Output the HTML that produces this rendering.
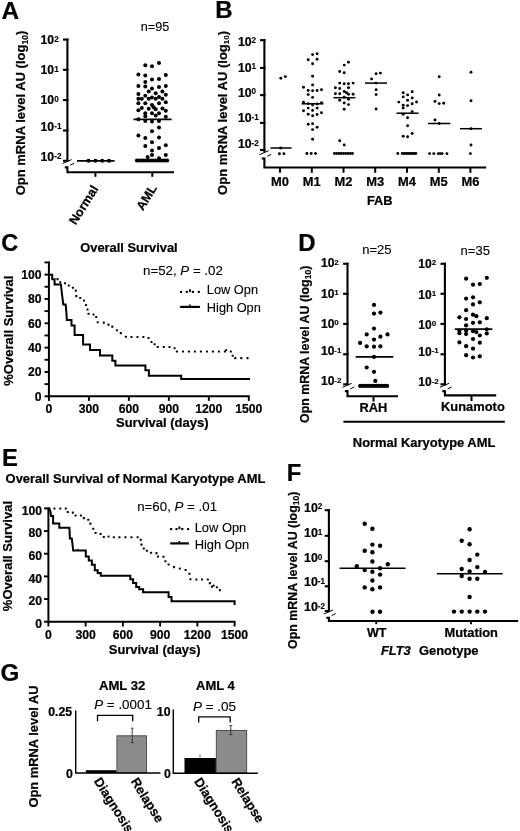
<!DOCTYPE html>
<html lang="en"><head><meta charset="utf-8"><title>Opn mRNA level in AML</title>
<style>html,body{margin:0;padding:0;background:#fff}svg{display:block}text{font-family:"Liberation Sans", Arial, Helvetica, sans-serif;fill:#000}</style></head><body>
<svg width="520" height="831" viewBox="0 0 520 831" font-family='"Liberation Sans", Arial, Helvetica, sans-serif'>
<rect width="520" height="831" fill="#fff"/>
<g id="panelA">
<text x="1.50" y="18.50" font-size="24.4" font-weight="bold" text-anchor="start" stroke="#000" stroke-width="0.22">A</text>
<text x="25.50" y="195.30" font-size="13" font-weight="bold" text-anchor="start" transform="rotate(-90 25.50 195.30)" stroke="#000" stroke-width="0.22">Opn mRNA level AU (log<tspan font-size="8.5" dy="2.4" stroke-width="0.1">10</tspan><tspan dy="-2.4">)</tspan></text>
<line x1="67.40" y1="38.55" x2="67.40" y2="161.30" stroke="#000" stroke-width="2.1" stroke-linecap="butt"/>
<line x1="63.00" y1="39.60" x2="68.45" y2="39.60" stroke="#000" stroke-width="2.1" stroke-linecap="butt"/>
<line x1="63.00" y1="69.80" x2="68.45" y2="69.80" stroke="#000" stroke-width="2.1" stroke-linecap="butt"/>
<line x1="63.00" y1="100.10" x2="68.45" y2="100.10" stroke="#000" stroke-width="2.1" stroke-linecap="butt"/>
<line x1="63.00" y1="130.50" x2="68.45" y2="130.50" stroke="#000" stroke-width="2.1" stroke-linecap="butt"/>
<line x1="63.00" y1="160.80" x2="68.45" y2="160.80" stroke="#000" stroke-width="2.1" stroke-linecap="butt"/>
<line x1="62.40" y1="163.60" x2="71.60" y2="159.60" stroke="#000" stroke-width="1.0" stroke-linecap="butt"/>
<line x1="70.20" y1="165.20" x2="74.20" y2="163.20" stroke="#000" stroke-width="1.0" stroke-linecap="butt"/>
<path d="M64.80 167.40 H67.40 V172.30 H174.00" fill="none" stroke="#000" stroke-width="2.1"/>
<text x="40.60" y="44.00" font-size="12.2" font-weight="bold" text-anchor="start" stroke="#000" stroke-width="0.22">10<tspan font-size="8.2" dy="-2.4" stroke-width="0.12">2</tspan></text>
<text x="40.60" y="74.40" font-size="12.2" font-weight="bold" text-anchor="start" stroke="#000" stroke-width="0.22">10<tspan font-size="8.2" dy="-2.4" stroke-width="0.12">1</tspan></text>
<text x="40.60" y="104.40" font-size="12.2" font-weight="bold" text-anchor="start" stroke="#000" stroke-width="0.22">10<tspan font-size="8.2" dy="-2.4" stroke-width="0.12">0</tspan></text>
<text x="40.60" y="131.00" font-size="12.2" font-weight="bold" text-anchor="start" stroke="#000" stroke-width="0.22">10<tspan font-size="8.2" dy="-2.4" stroke-width="0.12">-1</tspan></text>
<text x="40.60" y="161.40" font-size="12.2" font-weight="bold" text-anchor="start" stroke="#000" stroke-width="0.22">10<tspan font-size="8.2" dy="-2.4" stroke-width="0.12">-2</tspan></text>
<line x1="95.40" y1="172.30" x2="95.40" y2="176.80" stroke="#000" stroke-width="2.0" stroke-linecap="butt"/>
<line x1="152.30" y1="172.30" x2="152.30" y2="176.80" stroke="#000" stroke-width="2.0" stroke-linecap="butt"/>
<text x="98.80" y="188.80" font-size="12.6" font-weight="bold" text-anchor="end" transform="rotate(-58 98.80 188.80)" stroke="#000" stroke-width="0.22">Normal</text>
<text x="157.40" y="188.00" font-size="12.6" font-weight="bold" text-anchor="end" transform="rotate(-58 157.40 188.00)" stroke="#000" stroke-width="0.22">AML</text>
<text x="140.80" y="30.80" font-size="12.6" font-weight="normal" text-anchor="start" stroke="#000" stroke-width="0.12">n=95</text>
<line x1="77.00" y1="160.80" x2="114.60" y2="160.80" stroke="#000" stroke-width="1.7" stroke-linecap="butt"/>
<circle cx="88.5" cy="160.8" r="2.0"/>
<circle cx="95.4" cy="160.8" r="2.0"/>
<circle cx="102.2" cy="160.8" r="2.0"/>
<circle cx="109.0" cy="160.8" r="2.0"/>
<line x1="133.50" y1="119.40" x2="171.60" y2="119.40" stroke="#000" stroke-width="1.7" stroke-linecap="butt"/>
<circle cx="159.0" cy="63.1" r="2.0"/>
<circle cx="145.3" cy="65.2" r="2.0"/>
<circle cx="152.0" cy="66.2" r="2.0"/>
<circle cx="138.4" cy="74.5" r="2.0"/>
<circle cx="165.8" cy="74.9" r="2.0"/>
<circle cx="145.3" cy="75.6" r="2.0"/>
<circle cx="159.0" cy="78.9" r="2.0"/>
<circle cx="152.0" cy="79.6" r="2.0"/>
<circle cx="145.3" cy="81.9" r="2.0"/>
<circle cx="138.4" cy="86.1" r="2.0"/>
<circle cx="165.8" cy="86.1" r="2.0"/>
<circle cx="145.3" cy="86.6" r="2.0"/>
<circle cx="159.0" cy="87.0" r="2.0"/>
<circle cx="152.0" cy="88.6" r="2.0"/>
<circle cx="148.7" cy="91.5" r="2.0"/>
<circle cx="162.4" cy="91.5" r="2.0"/>
<circle cx="155.7" cy="93.3" r="2.0"/>
<circle cx="138.4" cy="94.1" r="2.0"/>
<circle cx="165.8" cy="94.7" r="2.0"/>
<circle cx="145.3" cy="95.8" r="2.0"/>
<circle cx="159.0" cy="97.1" r="2.0"/>
<circle cx="152.0" cy="97.4" r="2.0"/>
<circle cx="138.4" cy="98.7" r="2.0"/>
<circle cx="141.8" cy="98.7" r="2.0"/>
<circle cx="148.7" cy="98.7" r="2.0"/>
<circle cx="155.7" cy="98.7" r="2.0"/>
<circle cx="162.4" cy="98.7" r="2.0"/>
<circle cx="165.8" cy="102.2" r="2.0"/>
<circle cx="138.4" cy="103.2" r="2.0"/>
<circle cx="145.3" cy="103.2" r="2.0"/>
<circle cx="159.0" cy="103.2" r="2.0"/>
<circle cx="152.0" cy="104.9" r="2.0"/>
<circle cx="153.6" cy="107.2" r="2.0"/>
<circle cx="141.8" cy="108.1" r="2.0"/>
<circle cx="148.7" cy="108.8" r="2.0"/>
<circle cx="155.7" cy="109.2" r="2.0"/>
<circle cx="162.4" cy="108.5" r="2.0"/>
<circle cx="138.4" cy="110.2" r="2.0"/>
<circle cx="165.8" cy="110.8" r="2.0"/>
<circle cx="145.3" cy="113.3" r="2.0"/>
<circle cx="152.0" cy="113.3" r="2.0"/>
<circle cx="159.0" cy="113.3" r="2.0"/>
<circle cx="155.7" cy="115.5" r="2.0"/>
<circle cx="145.3" cy="116.2" r="2.0"/>
<circle cx="165.8" cy="116.8" r="2.0"/>
<circle cx="138.4" cy="119.2" r="2.0"/>
<circle cx="145.3" cy="121.0" r="2.0"/>
<circle cx="152.0" cy="121.4" r="2.0"/>
<circle cx="159.0" cy="121.0" r="2.0"/>
<circle cx="159.0" cy="127.5" r="2.0"/>
<circle cx="152.0" cy="131.3" r="2.0"/>
<circle cx="138.4" cy="135.6" r="2.0"/>
<circle cx="145.3" cy="138.0" r="2.0"/>
<circle cx="159.0" cy="137.6" r="2.0"/>
<circle cx="152.0" cy="142.3" r="2.0"/>
<circle cx="145.3" cy="146.1" r="2.0"/>
<circle cx="165.8" cy="145.3" r="2.0"/>
<circle cx="159.0" cy="148.1" r="2.0"/>
<circle cx="152.0" cy="150.6" r="2.0"/>
<circle cx="152.0" cy="155.1" r="2.0"/>
<circle cx="165.8" cy="155.1" r="2.0"/>
<circle cx="147.6" cy="157.1" r="2.0"/>
<circle cx="159.0" cy="158.2" r="2.0"/>
<circle cx="136.9" cy="160.6" r="2.0"/>
<circle cx="139.2" cy="160.6" r="2.0"/>
<circle cx="141.6" cy="160.6" r="2.0"/>
<circle cx="143.9" cy="160.6" r="2.0"/>
<circle cx="146.2" cy="160.6" r="2.0"/>
<circle cx="148.6" cy="160.6" r="2.0"/>
<circle cx="150.9" cy="160.6" r="2.0"/>
<circle cx="153.2" cy="160.6" r="2.0"/>
<circle cx="155.5" cy="160.6" r="2.0"/>
<circle cx="157.9" cy="160.6" r="2.0"/>
<circle cx="160.2" cy="160.6" r="2.0"/>
<circle cx="162.5" cy="160.6" r="2.0"/>
<circle cx="164.9" cy="160.6" r="2.0"/>
<circle cx="167.2" cy="160.6" r="2.0"/>
</g>
<g id="panelB">
<text x="215.20" y="18.40" font-size="24" font-weight="bold" text-anchor="start" stroke="#000" stroke-width="0.22">B</text>
<text x="227.00" y="194.90" font-size="13" font-weight="bold" text-anchor="start" transform="rotate(-90 227.00 194.90)" stroke="#000" stroke-width="0.22">Opn mRNA level AU (log<tspan font-size="8.0" dy="2.4" stroke-width="0.1">10</tspan><tspan dy="-2.4">)</tspan></text>
<line x1="264.40" y1="39.15" x2="264.40" y2="152.40" stroke="#000" stroke-width="2.1" stroke-linecap="butt"/>
<line x1="260.00" y1="40.20" x2="265.45" y2="40.20" stroke="#000" stroke-width="2.1" stroke-linecap="butt"/>
<line x1="260.00" y1="67.90" x2="265.45" y2="67.90" stroke="#000" stroke-width="2.1" stroke-linecap="butt"/>
<line x1="260.00" y1="95.10" x2="265.45" y2="95.10" stroke="#000" stroke-width="2.1" stroke-linecap="butt"/>
<line x1="260.00" y1="122.90" x2="265.45" y2="122.90" stroke="#000" stroke-width="2.1" stroke-linecap="butt"/>
<line x1="260.00" y1="150.00" x2="265.45" y2="150.00" stroke="#000" stroke-width="2.1" stroke-linecap="butt"/>
<line x1="259.40" y1="154.70" x2="268.60" y2="150.70" stroke="#000" stroke-width="1.0" stroke-linecap="butt"/>
<line x1="267.20" y1="156.30" x2="271.20" y2="154.30" stroke="#000" stroke-width="1.0" stroke-linecap="butt"/>
<path d="M261.80 158.50 H264.40 V167.50 H486.20" fill="none" stroke="#000" stroke-width="2.1"/>
<text x="237.90" y="45.70" font-size="12.3" font-weight="bold" text-anchor="start" stroke="#000" stroke-width="0.22">10<tspan font-size="8.2" dy="-2.4" stroke-width="0.12">2</tspan></text>
<text x="237.90" y="71.80" font-size="12.3" font-weight="bold" text-anchor="start" stroke="#000" stroke-width="0.22">10<tspan font-size="8.2" dy="-2.4" stroke-width="0.12">1</tspan></text>
<text x="237.90" y="96.70" font-size="12.3" font-weight="bold" text-anchor="start" stroke="#000" stroke-width="0.22">10<tspan font-size="8.2" dy="-2.4" stroke-width="0.12">0</tspan></text>
<text x="237.90" y="121.90" font-size="12.3" font-weight="bold" text-anchor="start" stroke="#000" stroke-width="0.22">10<tspan font-size="8.2" dy="-2.4" stroke-width="0.12">-1</tspan></text>
<text x="237.90" y="148.00" font-size="12.3" font-weight="bold" text-anchor="start" stroke="#000" stroke-width="0.22">10<tspan font-size="8.2" dy="-2.4" stroke-width="0.12">-2</tspan></text>
<line x1="280.00" y1="167.50" x2="280.00" y2="172.80" stroke="#000" stroke-width="2.0" stroke-linecap="butt"/>
<text x="280.00" y="185.70" font-size="12.9" font-weight="bold" text-anchor="middle" stroke="#000" stroke-width="0.22">M0</text>
<line x1="311.80" y1="167.50" x2="311.80" y2="172.80" stroke="#000" stroke-width="2.0" stroke-linecap="butt"/>
<text x="311.80" y="185.70" font-size="12.9" font-weight="bold" text-anchor="middle" stroke="#000" stroke-width="0.22">M1</text>
<line x1="343.50" y1="167.50" x2="343.50" y2="172.80" stroke="#000" stroke-width="2.0" stroke-linecap="butt"/>
<text x="343.50" y="185.70" font-size="12.9" font-weight="bold" text-anchor="middle" stroke="#000" stroke-width="0.22">M2</text>
<line x1="375.20" y1="167.50" x2="375.20" y2="172.80" stroke="#000" stroke-width="2.0" stroke-linecap="butt"/>
<text x="375.20" y="185.70" font-size="12.9" font-weight="bold" text-anchor="middle" stroke="#000" stroke-width="0.22">M3</text>
<line x1="407.00" y1="167.50" x2="407.00" y2="172.80" stroke="#000" stroke-width="2.0" stroke-linecap="butt"/>
<text x="407.00" y="185.70" font-size="12.9" font-weight="bold" text-anchor="middle" stroke="#000" stroke-width="0.22">M4</text>
<line x1="438.80" y1="167.50" x2="438.80" y2="172.80" stroke="#000" stroke-width="2.0" stroke-linecap="butt"/>
<text x="438.80" y="185.70" font-size="12.9" font-weight="bold" text-anchor="middle" stroke="#000" stroke-width="0.22">M5</text>
<line x1="470.40" y1="167.50" x2="470.40" y2="172.80" stroke="#000" stroke-width="2.0" stroke-linecap="butt"/>
<text x="470.40" y="185.70" font-size="12.9" font-weight="bold" text-anchor="middle" stroke="#000" stroke-width="0.22">M6</text>
<text x="379.70" y="205.00" font-size="12.8" font-weight="bold" text-anchor="middle" stroke="#000" stroke-width="0.22">FAB</text>
<line x1="270.40" y1="148.00" x2="291.60" y2="148.00" stroke="#000" stroke-width="1.5" stroke-linecap="butt"/>
<line x1="301.50" y1="103.80" x2="323.50" y2="103.80" stroke="#000" stroke-width="1.5" stroke-linecap="butt"/>
<line x1="333.40" y1="97.70" x2="355.40" y2="97.70" stroke="#000" stroke-width="1.5" stroke-linecap="butt"/>
<line x1="365.00" y1="83.10" x2="387.00" y2="83.10" stroke="#000" stroke-width="1.5" stroke-linecap="butt"/>
<line x1="396.50" y1="113.20" x2="418.50" y2="113.20" stroke="#000" stroke-width="1.5" stroke-linecap="butt"/>
<line x1="428.00" y1="123.50" x2="450.40" y2="123.50" stroke="#000" stroke-width="1.5" stroke-linecap="butt"/>
<line x1="460.00" y1="128.70" x2="482.00" y2="128.70" stroke="#000" stroke-width="1.5" stroke-linecap="butt"/>
<circle cx="280.8" cy="78.2" r="1.45"/>
<circle cx="285.3" cy="76.6" r="1.45"/>
<circle cx="280.6" cy="148.0" r="1.45"/>
<circle cx="279.4" cy="153.8" r="1.45"/>
<circle cx="283.9" cy="153.8" r="1.45"/>
<circle cx="312.6" cy="54.6" r="1.45"/>
<circle cx="317.1" cy="53.8" r="1.45"/>
<circle cx="308.2" cy="59.7" r="1.45"/>
<circle cx="317.1" cy="59.2" r="1.45"/>
<circle cx="312.6" cy="63.8" r="1.45"/>
<circle cx="312.6" cy="76.2" r="1.45"/>
<circle cx="312.6" cy="84.9" r="1.45"/>
<circle cx="303.5" cy="87.2" r="1.45"/>
<circle cx="308.2" cy="90.5" r="1.45"/>
<circle cx="312.6" cy="90.8" r="1.45"/>
<circle cx="317.1" cy="90.5" r="1.45"/>
<circle cx="321.5" cy="89.7" r="1.45"/>
<circle cx="308.2" cy="94.6" r="1.45"/>
<circle cx="312.6" cy="97.4" r="1.45"/>
<circle cx="303.5" cy="102.2" r="1.45"/>
<circle cx="308.2" cy="103.6" r="1.45"/>
<circle cx="321.5" cy="102.7" r="1.45"/>
<circle cx="312.6" cy="105.0" r="1.45"/>
<circle cx="317.1" cy="104.0" r="1.45"/>
<circle cx="308.2" cy="108.1" r="1.45"/>
<circle cx="317.1" cy="108.1" r="1.45"/>
<circle cx="303.5" cy="110.7" r="1.45"/>
<circle cx="312.6" cy="110.4" r="1.45"/>
<circle cx="321.5" cy="112.7" r="1.45"/>
<circle cx="308.2" cy="114.2" r="1.45"/>
<circle cx="317.1" cy="114.5" r="1.45"/>
<circle cx="312.6" cy="115.8" r="1.45"/>
<circle cx="308.2" cy="124.2" r="1.45"/>
<circle cx="312.6" cy="123.8" r="1.45"/>
<circle cx="317.1" cy="127.3" r="1.45"/>
<circle cx="312.6" cy="129.6" r="1.45"/>
<circle cx="312.6" cy="139.2" r="1.45"/>
<circle cx="306.9" cy="153.5" r="1.45"/>
<circle cx="311.2" cy="153.5" r="1.45"/>
<circle cx="315.5" cy="153.5" r="1.45"/>
<circle cx="348.5" cy="62.3" r="1.45"/>
<circle cx="344.2" cy="65.1" r="1.45"/>
<circle cx="339.7" cy="71.5" r="1.45"/>
<circle cx="344.2" cy="72.8" r="1.45"/>
<circle cx="339.7" cy="83.1" r="1.45"/>
<circle cx="344.2" cy="83.8" r="1.45"/>
<circle cx="348.5" cy="83.8" r="1.45"/>
<circle cx="353.1" cy="83.1" r="1.45"/>
<circle cx="335.4" cy="87.7" r="1.45"/>
<circle cx="339.7" cy="88.5" r="1.45"/>
<circle cx="348.5" cy="87.7" r="1.45"/>
<circle cx="344.2" cy="91.5" r="1.45"/>
<circle cx="346.5" cy="92.8" r="1.45"/>
<circle cx="335.4" cy="93.8" r="1.45"/>
<circle cx="339.7" cy="93.8" r="1.45"/>
<circle cx="348.5" cy="94.3" r="1.45"/>
<circle cx="353.1" cy="94.3" r="1.45"/>
<circle cx="344.2" cy="97.2" r="1.45"/>
<circle cx="339.7" cy="100.2" r="1.45"/>
<circle cx="348.5" cy="99.2" r="1.45"/>
<circle cx="344.2" cy="103.0" r="1.45"/>
<circle cx="348.5" cy="104.6" r="1.45"/>
<circle cx="344.2" cy="109.2" r="1.45"/>
<circle cx="339.7" cy="140.8" r="1.45"/>
<circle cx="344.2" cy="145.0" r="1.45"/>
<circle cx="334.4" cy="153.5" r="1.45"/>
<circle cx="336.6" cy="153.5" r="1.45"/>
<circle cx="338.9" cy="153.5" r="1.45"/>
<circle cx="341.1" cy="153.5" r="1.45"/>
<circle cx="343.4" cy="153.5" r="1.45"/>
<circle cx="345.6" cy="153.5" r="1.45"/>
<circle cx="347.9" cy="153.5" r="1.45"/>
<circle cx="350.1" cy="153.5" r="1.45"/>
<circle cx="352.4" cy="153.5" r="1.45"/>
<circle cx="376.1" cy="73.8" r="1.45"/>
<circle cx="380.4" cy="73.1" r="1.45"/>
<circle cx="371.6" cy="78.9" r="1.45"/>
<circle cx="376.1" cy="83.1" r="1.45"/>
<circle cx="376.1" cy="89.7" r="1.45"/>
<circle cx="376.1" cy="94.6" r="1.45"/>
<circle cx="376.1" cy="109.0" r="1.45"/>
<circle cx="403.2" cy="92.8" r="1.45"/>
<circle cx="412.2" cy="91.8" r="1.45"/>
<circle cx="407.6" cy="94.9" r="1.45"/>
<circle cx="403.2" cy="96.9" r="1.45"/>
<circle cx="412.2" cy="98.0" r="1.45"/>
<circle cx="407.6" cy="100.2" r="1.45"/>
<circle cx="398.8" cy="102.1" r="1.45"/>
<circle cx="416.5" cy="102.0" r="1.45"/>
<circle cx="412.2" cy="103.8" r="1.45"/>
<circle cx="403.2" cy="105.2" r="1.45"/>
<circle cx="407.6" cy="105.6" r="1.45"/>
<circle cx="403.2" cy="108.0" r="1.45"/>
<circle cx="412.2" cy="111.6" r="1.45"/>
<circle cx="403.2" cy="114.2" r="1.45"/>
<circle cx="407.6" cy="117.8" r="1.45"/>
<circle cx="407.6" cy="125.8" r="1.45"/>
<circle cx="412.2" cy="133.5" r="1.45"/>
<circle cx="403.2" cy="136.2" r="1.45"/>
<circle cx="407.6" cy="136.8" r="1.45"/>
<circle cx="397.8" cy="153.5" r="1.45"/>
<circle cx="402.3" cy="153.5" r="1.45"/>
<circle cx="404.2" cy="153.5" r="1.45"/>
<circle cx="406.2" cy="153.5" r="1.45"/>
<circle cx="408.1" cy="153.5" r="1.45"/>
<circle cx="410.0" cy="153.5" r="1.45"/>
<circle cx="411.9" cy="153.5" r="1.45"/>
<circle cx="413.9" cy="153.5" r="1.45"/>
<circle cx="415.8" cy="153.5" r="1.45"/>
<circle cx="439.2" cy="76.7" r="1.45"/>
<circle cx="439.2" cy="95.0" r="1.45"/>
<circle cx="435.0" cy="101.4" r="1.45"/>
<circle cx="439.2" cy="103.6" r="1.45"/>
<circle cx="443.7" cy="103.2" r="1.45"/>
<circle cx="435.0" cy="120.0" r="1.45"/>
<circle cx="439.2" cy="123.5" r="1.45"/>
<circle cx="429.6" cy="153.6" r="1.45"/>
<circle cx="433.8" cy="153.6" r="1.45"/>
<circle cx="438.3" cy="153.6" r="1.45"/>
<circle cx="440.2" cy="153.6" r="1.45"/>
<circle cx="442.1" cy="153.6" r="1.45"/>
<circle cx="446.9" cy="153.6" r="1.45"/>
<circle cx="471.0" cy="72.3" r="1.45"/>
<circle cx="471.0" cy="100.8" r="1.45"/>
<circle cx="471.0" cy="128.7" r="1.45"/>
<circle cx="471.0" cy="145.0" r="1.45"/>
<circle cx="470.4" cy="153.6" r="1.45"/>
</g>
<g id="panelC">
<text x="1.20" y="251.00" font-size="23.6" font-weight="bold" text-anchor="start" stroke="#000" stroke-width="0.22">C</text>
<text x="80.20" y="252.00" font-size="12.9" font-weight="bold" text-anchor="start" stroke="#000" stroke-width="0.22">Overall Survival</text>
<text x="12.60" y="385.80" font-size="13.05" font-weight="bold" text-anchor="start" transform="rotate(-90 12.60 385.80)" stroke="#000" stroke-width="0.22">%Overall Survival</text>
<line x1="48.90" y1="261.40" x2="48.90" y2="397.30" stroke="#000" stroke-width="2.0" stroke-linecap="butt"/>
<line x1="47.90" y1="396.30" x2="249.80" y2="396.30" stroke="#000" stroke-width="2.0" stroke-linecap="butt"/>
<line x1="44.50" y1="396.30" x2="48.90" y2="396.30" stroke="#000" stroke-width="1.9" stroke-linecap="butt"/>
<line x1="44.50" y1="384.13" x2="48.90" y2="384.13" stroke="#000" stroke-width="1.9" stroke-linecap="butt"/>
<line x1="44.50" y1="371.96" x2="48.90" y2="371.96" stroke="#000" stroke-width="1.9" stroke-linecap="butt"/>
<line x1="44.50" y1="359.79" x2="48.90" y2="359.79" stroke="#000" stroke-width="1.9" stroke-linecap="butt"/>
<line x1="44.50" y1="347.62" x2="48.90" y2="347.62" stroke="#000" stroke-width="1.9" stroke-linecap="butt"/>
<line x1="44.50" y1="335.45" x2="48.90" y2="335.45" stroke="#000" stroke-width="1.9" stroke-linecap="butt"/>
<line x1="44.50" y1="323.28" x2="48.90" y2="323.28" stroke="#000" stroke-width="1.9" stroke-linecap="butt"/>
<line x1="44.50" y1="311.11" x2="48.90" y2="311.11" stroke="#000" stroke-width="1.9" stroke-linecap="butt"/>
<line x1="44.50" y1="298.94" x2="48.90" y2="298.94" stroke="#000" stroke-width="1.9" stroke-linecap="butt"/>
<line x1="44.50" y1="286.77" x2="48.90" y2="286.77" stroke="#000" stroke-width="1.9" stroke-linecap="butt"/>
<line x1="44.50" y1="274.60" x2="48.90" y2="274.60" stroke="#000" stroke-width="1.9" stroke-linecap="butt"/>
<line x1="44.50" y1="262.43" x2="48.90" y2="262.43" stroke="#000" stroke-width="1.9" stroke-linecap="butt"/>
<text x="41.60" y="400.60" font-size="12.2" font-weight="bold" text-anchor="end" stroke="#000" stroke-width="0.22">0</text>
<text x="41.60" y="376.26" font-size="12.2" font-weight="bold" text-anchor="end" stroke="#000" stroke-width="0.22">20</text>
<text x="41.60" y="351.92" font-size="12.2" font-weight="bold" text-anchor="end" stroke="#000" stroke-width="0.22">40</text>
<text x="41.60" y="327.58" font-size="12.2" font-weight="bold" text-anchor="end" stroke="#000" stroke-width="0.22">60</text>
<text x="41.60" y="303.24" font-size="12.2" font-weight="bold" text-anchor="end" stroke="#000" stroke-width="0.22">80</text>
<text x="41.60" y="278.90" font-size="12.2" font-weight="bold" text-anchor="end" stroke="#000" stroke-width="0.22">100</text>
<line x1="48.90" y1="396.30" x2="48.90" y2="400.90" stroke="#000" stroke-width="1.9" stroke-linecap="butt"/>
<text x="48.90" y="413.40" font-size="12.2" font-weight="bold" text-anchor="middle" stroke="#000" stroke-width="0.22">0</text>
<line x1="88.88" y1="396.30" x2="88.88" y2="400.90" stroke="#000" stroke-width="1.9" stroke-linecap="butt"/>
<text x="88.88" y="413.40" font-size="12.2" font-weight="bold" text-anchor="middle" stroke="#000" stroke-width="0.22">300</text>
<line x1="128.86" y1="396.30" x2="128.86" y2="400.90" stroke="#000" stroke-width="1.9" stroke-linecap="butt"/>
<text x="128.86" y="413.40" font-size="12.2" font-weight="bold" text-anchor="middle" stroke="#000" stroke-width="0.22">600</text>
<line x1="168.84" y1="396.30" x2="168.84" y2="400.90" stroke="#000" stroke-width="1.9" stroke-linecap="butt"/>
<text x="168.84" y="413.40" font-size="12.2" font-weight="bold" text-anchor="middle" stroke="#000" stroke-width="0.22">900</text>
<line x1="208.82" y1="396.30" x2="208.82" y2="400.90" stroke="#000" stroke-width="1.9" stroke-linecap="butt"/>
<text x="208.82" y="413.40" font-size="12.2" font-weight="bold" text-anchor="middle" stroke="#000" stroke-width="0.22">1200</text>
<line x1="248.80" y1="396.30" x2="248.80" y2="400.90" stroke="#000" stroke-width="1.9" stroke-linecap="butt"/>
<text x="248.80" y="413.40" font-size="12.2" font-weight="bold" text-anchor="middle" stroke="#000" stroke-width="0.22">1500</text>
<text x="116.00" y="427.40" font-size="13.0" font-weight="bold" text-anchor="start" stroke="#000" stroke-width="0.22">Survival (days)</text>
<text x="143.00" y="274.80" font-size="13.3" font-weight="normal" text-anchor="start" stroke="#000" stroke-width="0.12">n=52, <tspan font-style="italic">P</tspan> = .02</text>
<text x="206.80" y="293.80" font-size="12.8" font-weight="normal" text-anchor="start" stroke="#000" stroke-width="0.12">Low Opn</text>
<text x="206.80" y="311.90" font-size="12.8" font-weight="normal" text-anchor="start" stroke="#000" stroke-width="0.12">High Opn</text>
<rect x="180.05" y="290.85" width="2.1" height="2.1"/>
<rect x="185.75" y="290.85" width="2.1" height="2.1"/>
<rect x="191.85" y="290.85" width="2.1" height="2.1"/>
<rect x="197.75" y="290.85" width="2.1" height="2.1"/>
<rect x="188.95" y="289.3" width="1.9" height="2.7"/>
<line x1="180.10" y1="306.90" x2="199.90" y2="306.90" stroke="#000" stroke-width="2.2" stroke-linecap="butt"/>
<line x1="189.90" y1="304.50" x2="189.90" y2="306.90" stroke="#000" stroke-width="1.6" stroke-linecap="butt"/>
<path d="M49.2 274.7 L52.2 274.7 L52.2 279.3 L54.6 279.3 L54.6 284.4 L60.9 284.4 L61.5 290.0 L62.1 294.9 L62.7 299.8 L63.3 304.5 L65.7 304.5 L66.3 312.0 L66.9 320.0 L71.5 320.0 L71.5 325.4 L74.6 325.4 L74.6 334.9 L83.1 334.9 L83.1 344.6 L90.0 344.6 L90.0 350.0 L100.0 350.0 L100.0 355.4 L112.3 355.4 L112.3 360.8 L115.4 360.8 L115.4 365.4 L145.4 365.4 L145.4 370.3 L148.9 370.3 L148.9 375.8 L181.2 375.8 L181.2 379.1 L250.0 379.1" fill="none" stroke="#000" stroke-width="2.0" stroke-linejoin="miter"/>
<rect x="56.48" y="278.08" width="2.05" height="2.05" rx="0.5"/>
<rect x="59.18" y="281.18" width="2.05" height="2.05" rx="0.5"/>
<rect x="63.98" y="282.18" width="2.05" height="2.05" rx="0.5"/>
<rect x="67.78" y="284.48" width="2.05" height="2.05" rx="0.5"/>
<rect x="71.88" y="286.68" width="2.05" height="2.05" rx="0.5"/>
<rect x="74.78" y="289.58" width="2.05" height="2.05" rx="0.5"/>
<rect x="75.28" y="295.08" width="2.05" height="2.05" rx="0.5"/>
<rect x="79.18" y="296.98" width="2.05" height="2.05" rx="0.5"/>
<rect x="82.88" y="299.48" width="2.05" height="2.05" rx="0.5"/>
<rect x="84.98" y="303.98" width="2.05" height="2.05" rx="0.5"/>
<rect x="86.48" y="308.48" width="2.05" height="2.05" rx="0.5"/>
<rect x="87.58" y="312.78" width="2.05" height="2.05" rx="0.5"/>
<rect x="92.48" y="313.48" width="2.05" height="2.05" rx="0.5"/>
<rect x="95.18" y="315.88" width="2.05" height="2.05" rx="0.5"/>
<rect x="96.68" y="321.28" width="2.05" height="2.05" rx="0.5"/>
<rect x="102.78" y="321.58" width="2.05" height="2.05" rx="0.5"/>
<rect x="107.48" y="323.58" width="2.05" height="2.05" rx="0.5"/>
<rect x="111.28" y="325.58" width="2.05" height="2.05" rx="0.5"/>
<rect x="115.88" y="329.28" width="2.05" height="2.05" rx="0.5"/>
<rect x="119.78" y="332.08" width="2.05" height="2.05" rx="0.5"/>
<rect x="124.88" y="335.68" width="2.05" height="2.05" rx="0.5"/>
<rect x="130.48" y="335.88" width="2.05" height="2.05" rx="0.5"/>
<rect x="136.48" y="335.88" width="2.05" height="2.05" rx="0.5"/>
<rect x="142.38" y="335.88" width="2.05" height="2.05" rx="0.5"/>
<rect x="147.48" y="336.98" width="2.05" height="2.05" rx="0.5"/>
<rect x="150.48" y="340.98" width="2.05" height="2.05" rx="0.5"/>
<rect x="153.58" y="343.18" width="2.05" height="2.05" rx="0.5"/>
<rect x="156.68" y="345.88" width="2.05" height="2.05" rx="0.5"/>
<rect x="162.78" y="345.88" width="2.05" height="2.05" rx="0.5"/>
<rect x="168.48" y="345.88" width="2.05" height="2.05" rx="0.5"/>
<rect x="173.58" y="347.18" width="2.05" height="2.05" rx="0.5"/>
<rect x="175.88" y="350.48" width="2.05" height="2.05" rx="0.5"/>
<rect x="181.98" y="350.48" width="2.05" height="2.05" rx="0.5"/>
<rect x="187.88" y="350.48" width="2.05" height="2.05" rx="0.5"/>
<rect x="193.88" y="350.48" width="2.05" height="2.05" rx="0.5"/>
<rect x="199.88" y="350.48" width="2.05" height="2.05" rx="0.5"/>
<rect x="205.88" y="350.48" width="2.05" height="2.05" rx="0.5"/>
<rect x="211.88" y="350.48" width="2.05" height="2.05" rx="0.5"/>
<rect x="217.88" y="350.48" width="2.05" height="2.05" rx="0.5"/>
<rect x="223.88" y="350.48" width="2.05" height="2.05" rx="0.5"/>
<rect x="229.78" y="350.48" width="2.05" height="2.05" rx="0.5"/>
<rect x="231.68" y="354.68" width="2.05" height="2.05" rx="0.5"/>
<rect x="234.28" y="357.08" width="2.05" height="2.05" rx="0.5"/>
<rect x="240.28" y="357.08" width="2.05" height="2.05" rx="0.5"/>
<rect x="246.48" y="357.08" width="2.05" height="2.05" rx="0.5"/>
<circle cx="226.2" cy="350.1" r="1.1"/>
</g>
<g id="panelD">
<text x="298.20" y="250.90" font-size="24" font-weight="bold" text-anchor="start" stroke="#000" stroke-width="0.22">D</text>
<text x="308.60" y="423.00" font-size="12.4" font-weight="bold" text-anchor="start" transform="rotate(-90 308.60 423.00)" stroke="#000" stroke-width="0.22">Opn mRNA level AU (log<tspan font-size="8.6" dy="2.4" stroke-width="0.1">10</tspan><tspan dy="-2.4">)</tspan></text>
<line x1="347.50" y1="262.75" x2="347.50" y2="385.00" stroke="#000" stroke-width="2.1" stroke-linecap="butt"/>
<line x1="343.10" y1="263.80" x2="348.55" y2="263.80" stroke="#000" stroke-width="2.1" stroke-linecap="butt"/>
<line x1="343.10" y1="293.80" x2="348.55" y2="293.80" stroke="#000" stroke-width="2.1" stroke-linecap="butt"/>
<line x1="343.10" y1="323.90" x2="348.55" y2="323.90" stroke="#000" stroke-width="2.1" stroke-linecap="butt"/>
<line x1="343.10" y1="354.30" x2="348.55" y2="354.30" stroke="#000" stroke-width="2.1" stroke-linecap="butt"/>
<line x1="343.10" y1="384.30" x2="348.55" y2="384.30" stroke="#000" stroke-width="2.1" stroke-linecap="butt"/>
<line x1="342.50" y1="387.30" x2="351.70" y2="383.30" stroke="#000" stroke-width="1.0" stroke-linecap="butt"/>
<line x1="350.30" y1="388.90" x2="354.30" y2="386.90" stroke="#000" stroke-width="1.0" stroke-linecap="butt"/>
<path d="M344.90 391.10 H347.50 V396.20 H398.00" fill="none" stroke="#000" stroke-width="2.1"/>
<text x="321.00" y="267.30" font-size="12.0" font-weight="bold" text-anchor="start" stroke="#000" stroke-width="0.22">10<tspan font-size="8.0" dy="-2.4" stroke-width="0.12">2</tspan></text>
<text x="321.00" y="297.80" font-size="12.0" font-weight="bold" text-anchor="start" stroke="#000" stroke-width="0.22">10<tspan font-size="8.0" dy="-2.4" stroke-width="0.12">1</tspan></text>
<text x="321.00" y="327.60" font-size="12.0" font-weight="bold" text-anchor="start" stroke="#000" stroke-width="0.22">10<tspan font-size="8.0" dy="-2.4" stroke-width="0.12">0</tspan></text>
<text x="321.00" y="355.00" font-size="12.0" font-weight="bold" text-anchor="start" stroke="#000" stroke-width="0.22">10<tspan font-size="8.0" dy="-2.4" stroke-width="0.12">-1</tspan></text>
<text x="321.00" y="385.00" font-size="12.0" font-weight="bold" text-anchor="start" stroke="#000" stroke-width="0.22">10<tspan font-size="8.0" dy="-2.4" stroke-width="0.12">-2</tspan></text>
<line x1="444.90" y1="262.75" x2="444.90" y2="385.00" stroke="#000" stroke-width="2.1" stroke-linecap="butt"/>
<line x1="440.50" y1="263.80" x2="445.95" y2="263.80" stroke="#000" stroke-width="2.1" stroke-linecap="butt"/>
<line x1="440.50" y1="293.80" x2="445.95" y2="293.80" stroke="#000" stroke-width="2.1" stroke-linecap="butt"/>
<line x1="440.50" y1="323.90" x2="445.95" y2="323.90" stroke="#000" stroke-width="2.1" stroke-linecap="butt"/>
<line x1="440.50" y1="354.30" x2="445.95" y2="354.30" stroke="#000" stroke-width="2.1" stroke-linecap="butt"/>
<line x1="440.50" y1="384.30" x2="445.95" y2="384.30" stroke="#000" stroke-width="2.1" stroke-linecap="butt"/>
<line x1="439.90" y1="387.30" x2="449.10" y2="383.30" stroke="#000" stroke-width="1.0" stroke-linecap="butt"/>
<line x1="447.70" y1="388.90" x2="451.70" y2="386.90" stroke="#000" stroke-width="1.0" stroke-linecap="butt"/>
<path d="M442.30 391.10 H444.90 V395.40 H496.20" fill="none" stroke="#000" stroke-width="2.1"/>
<text x="418.30" y="267.50" font-size="12.0" font-weight="bold" text-anchor="start" stroke="#000" stroke-width="0.22">10<tspan font-size="8.0" dy="-2.4" stroke-width="0.12">2</tspan></text>
<text x="418.30" y="298.50" font-size="12.0" font-weight="bold" text-anchor="start" stroke="#000" stroke-width="0.22">10<tspan font-size="8.0" dy="-2.4" stroke-width="0.12">1</tspan></text>
<text x="418.30" y="328.50" font-size="12.0" font-weight="bold" text-anchor="start" stroke="#000" stroke-width="0.22">10<tspan font-size="8.0" dy="-2.4" stroke-width="0.12">0</tspan></text>
<text x="418.30" y="355.50" font-size="12.0" font-weight="bold" text-anchor="start" stroke="#000" stroke-width="0.22">10<tspan font-size="8.0" dy="-2.4" stroke-width="0.12">-1</tspan></text>
<text x="418.30" y="386.00" font-size="12.0" font-weight="bold" text-anchor="start" stroke="#000" stroke-width="0.22">10<tspan font-size="8.0" dy="-2.4" stroke-width="0.12">-2</tspan></text>
<line x1="373.50" y1="396.20" x2="373.50" y2="401.60" stroke="#000" stroke-width="2.0" stroke-linecap="butt"/>
<line x1="471.50" y1="395.40" x2="471.50" y2="401.00" stroke="#000" stroke-width="2.0" stroke-linecap="butt"/>
<text x="373.30" y="412.30" font-size="12.85" font-weight="bold" text-anchor="middle" stroke="#000" stroke-width="0.22">RAH</text>
<text x="472.90" y="411.30" font-size="12.9" font-weight="bold" text-anchor="middle" stroke="#000" stroke-width="0.22">Kunamoto</text>
<text x="362.20" y="254.40" font-size="13.0" font-weight="normal" text-anchor="start" stroke="#000" stroke-width="0.12">n=25</text>
<text x="460.60" y="255.10" font-size="13.0" font-weight="normal" text-anchor="start" stroke="#000" stroke-width="0.12">n=35</text>
<line x1="343.40" y1="421.80" x2="504.80" y2="421.80" stroke="#000" stroke-width="2.1" stroke-linecap="butt"/>
<text x="352.80" y="446.90" font-size="12.95" font-weight="bold" text-anchor="start" stroke="#000" stroke-width="0.22">Normal Karyotype AML</text>
<line x1="355.70" y1="356.90" x2="393.30" y2="356.90" stroke="#000" stroke-width="1.7" stroke-linecap="butt"/>
<circle cx="374.0" cy="304.9" r="2.1"/>
<circle cx="374.0" cy="313.6" r="2.1"/>
<circle cx="380.4" cy="312.6" r="2.1"/>
<circle cx="374.0" cy="328.6" r="2.1"/>
<circle cx="366.7" cy="334.4" r="2.1"/>
<circle cx="380.4" cy="336.7" r="2.1"/>
<circle cx="387.5" cy="334.4" r="2.1"/>
<circle cx="374.0" cy="339.6" r="2.1"/>
<circle cx="360.1" cy="342.9" r="2.1"/>
<circle cx="366.7" cy="346.3" r="2.1"/>
<circle cx="374.0" cy="346.7" r="2.1"/>
<circle cx="380.4" cy="346.3" r="2.1"/>
<circle cx="374.0" cy="356.9" r="2.1"/>
<circle cx="366.7" cy="367.5" r="2.1"/>
<circle cx="374.0" cy="371.8" r="2.1"/>
<circle cx="375.3" cy="380.9" r="2.1"/>
<circle cx="360.2" cy="385.9" r="2.1"/>
<circle cx="362.9" cy="385.9" r="2.1"/>
<circle cx="365.6" cy="385.9" r="2.1"/>
<circle cx="368.3" cy="385.9" r="2.1"/>
<circle cx="371.0" cy="385.9" r="2.1"/>
<circle cx="373.7" cy="385.9" r="2.1"/>
<circle cx="376.4" cy="385.9" r="2.1"/>
<circle cx="379.1" cy="385.9" r="2.1"/>
<circle cx="381.8" cy="385.9" r="2.1"/>
<circle cx="384.5" cy="385.9" r="2.1"/>
<circle cx="387.1" cy="385.9" r="2.1"/>
<line x1="454.80" y1="329.10" x2="492.40" y2="329.10" stroke="#000" stroke-width="1.7" stroke-linecap="butt"/>
<circle cx="466.1" cy="278.7" r="2.1"/>
<circle cx="486.8" cy="277.8" r="2.1"/>
<circle cx="473.0" cy="284.7" r="2.1"/>
<circle cx="479.8" cy="284.1" r="2.1"/>
<circle cx="466.1" cy="298.6" r="2.1"/>
<circle cx="473.0" cy="297.3" r="2.1"/>
<circle cx="479.8" cy="302.3" r="2.1"/>
<circle cx="473.0" cy="304.4" r="2.1"/>
<circle cx="466.1" cy="310.2" r="2.1"/>
<circle cx="473.0" cy="314.7" r="2.1"/>
<circle cx="476.4" cy="316.2" r="2.1"/>
<circle cx="459.4" cy="317.3" r="2.1"/>
<circle cx="486.8" cy="318.2" r="2.1"/>
<circle cx="466.1" cy="319.0" r="2.1"/>
<circle cx="473.0" cy="322.8" r="2.1"/>
<circle cx="479.8" cy="322.3" r="2.1"/>
<circle cx="466.1" cy="325.4" r="2.1"/>
<circle cx="459.4" cy="330.6" r="2.1"/>
<circle cx="459.4" cy="333.2" r="2.1"/>
<circle cx="466.1" cy="330.6" r="2.1"/>
<circle cx="466.1" cy="334.0" r="2.1"/>
<circle cx="473.0" cy="331.2" r="2.1"/>
<circle cx="476.4" cy="332.1" r="2.1"/>
<circle cx="479.8" cy="335.5" r="2.1"/>
<circle cx="486.8" cy="329.4" r="2.1"/>
<circle cx="486.8" cy="333.5" r="2.1"/>
<circle cx="473.0" cy="339.0" r="2.1"/>
<circle cx="459.4" cy="342.3" r="2.1"/>
<circle cx="479.8" cy="342.7" r="2.1"/>
<circle cx="466.1" cy="346.2" r="2.1"/>
<circle cx="473.0" cy="348.7" r="2.1"/>
<circle cx="466.1" cy="355.2" r="2.1"/>
<circle cx="473.0" cy="357.5" r="2.1"/>
<circle cx="479.8" cy="356.3" r="2.1"/>
</g>
<g id="panelE">
<text x="2.00" y="465.90" font-size="23.8" font-weight="bold" text-anchor="start" stroke="#000" stroke-width="0.22">E</text>
<text x="5.60" y="483.00" font-size="12.95" font-weight="bold" text-anchor="start" stroke="#000" stroke-width="0.22">Overall Survival of Normal Karyotype AML</text>
<text x="12.00" y="611.20" font-size="13.05" font-weight="bold" text-anchor="start" transform="rotate(-90 12.00 611.20)" stroke="#000" stroke-width="0.22">%Overall Survival</text>
<line x1="48.40" y1="507.40" x2="48.40" y2="622.70" stroke="#000" stroke-width="2.0" stroke-linecap="butt"/>
<line x1="47.40" y1="621.70" x2="235.60" y2="621.70" stroke="#000" stroke-width="2.0" stroke-linecap="butt"/>
<line x1="44.00" y1="621.70" x2="48.40" y2="621.70" stroke="#000" stroke-width="1.9" stroke-linecap="butt"/>
<text x="42.00" y="628.10" font-size="12.2" font-weight="bold" text-anchor="end" stroke="#000" stroke-width="0.22">0</text>
<line x1="44.00" y1="599.04" x2="48.40" y2="599.04" stroke="#000" stroke-width="1.9" stroke-linecap="butt"/>
<text x="42.00" y="605.44" font-size="12.2" font-weight="bold" text-anchor="end" stroke="#000" stroke-width="0.22">20</text>
<line x1="44.00" y1="576.38" x2="48.40" y2="576.38" stroke="#000" stroke-width="1.9" stroke-linecap="butt"/>
<text x="42.00" y="582.78" font-size="12.2" font-weight="bold" text-anchor="end" stroke="#000" stroke-width="0.22">40</text>
<line x1="44.00" y1="553.72" x2="48.40" y2="553.72" stroke="#000" stroke-width="1.9" stroke-linecap="butt"/>
<text x="42.00" y="560.12" font-size="12.2" font-weight="bold" text-anchor="end" stroke="#000" stroke-width="0.22">60</text>
<line x1="44.00" y1="531.06" x2="48.40" y2="531.06" stroke="#000" stroke-width="1.9" stroke-linecap="butt"/>
<text x="42.00" y="537.46" font-size="12.2" font-weight="bold" text-anchor="end" stroke="#000" stroke-width="0.22">80</text>
<line x1="44.00" y1="508.40" x2="48.40" y2="508.40" stroke="#000" stroke-width="1.9" stroke-linecap="butt"/>
<text x="42.00" y="514.80" font-size="12.2" font-weight="bold" text-anchor="end" stroke="#000" stroke-width="0.22">100</text>
<line x1="48.40" y1="621.70" x2="48.40" y2="626.50" stroke="#000" stroke-width="1.9" stroke-linecap="butt"/>
<text x="48.40" y="639.00" font-size="12.2" font-weight="bold" text-anchor="middle" stroke="#000" stroke-width="0.22">0</text>
<line x1="85.64" y1="621.70" x2="85.64" y2="626.50" stroke="#000" stroke-width="1.9" stroke-linecap="butt"/>
<text x="85.64" y="639.00" font-size="12.2" font-weight="bold" text-anchor="middle" stroke="#000" stroke-width="0.22">300</text>
<line x1="122.88" y1="621.70" x2="122.88" y2="626.50" stroke="#000" stroke-width="1.9" stroke-linecap="butt"/>
<text x="122.88" y="639.00" font-size="12.2" font-weight="bold" text-anchor="middle" stroke="#000" stroke-width="0.22">600</text>
<line x1="160.12" y1="621.70" x2="160.12" y2="626.50" stroke="#000" stroke-width="1.9" stroke-linecap="butt"/>
<text x="160.12" y="639.00" font-size="12.2" font-weight="bold" text-anchor="middle" stroke="#000" stroke-width="0.22">900</text>
<line x1="197.36" y1="621.70" x2="197.36" y2="626.50" stroke="#000" stroke-width="1.9" stroke-linecap="butt"/>
<text x="197.36" y="639.00" font-size="12.2" font-weight="bold" text-anchor="middle" stroke="#000" stroke-width="0.22">1200</text>
<line x1="234.60" y1="621.70" x2="234.60" y2="626.50" stroke="#000" stroke-width="1.9" stroke-linecap="butt"/>
<text x="234.60" y="639.00" font-size="12.2" font-weight="bold" text-anchor="middle" stroke="#000" stroke-width="0.22">1500</text>
<text x="108.80" y="654.00" font-size="12.9" font-weight="bold" text-anchor="start" stroke="#000" stroke-width="0.22">Survival (days)</text>
<text x="137.20" y="511.30" font-size="13.3" font-weight="normal" text-anchor="start" stroke="#000" stroke-width="0.12">n=60, <tspan font-style="italic">P</tspan> = .01</text>
<text x="194.70" y="532.40" font-size="12.9" font-weight="normal" text-anchor="start" stroke="#000" stroke-width="0.12">Low Opn</text>
<text x="194.70" y="549.40" font-size="12.9" font-weight="normal" text-anchor="start" stroke="#000" stroke-width="0.12">High Opn</text>
<rect x="170.05" y="528.05" width="2.1" height="2.1"/>
<rect x="175.45" y="528.05" width="2.1" height="2.1"/>
<rect x="181.25" y="528.05" width="2.1" height="2.1"/>
<rect x="187.05" y="528.05" width="2.1" height="2.1"/>
<rect x="178.45" y="526.5" width="1.9" height="2.7"/>
<line x1="170.20" y1="543.40" x2="188.90" y2="543.40" stroke="#000" stroke-width="2.2" stroke-linecap="butt"/>
<line x1="179.40" y1="541.00" x2="179.40" y2="543.40" stroke="#000" stroke-width="1.6" stroke-linecap="butt"/>
<path d="M48.4 508.5 L49.4 508.5 L50.6 512.5 L51.1 515.9 L53.1 515.9 L53.1 523.6 L59.3 523.6 L59.3 527.7 L69.4 527.7 L69.9 538.5 L71.8 538.5 L73.2 550.6 L85.8 550.6 L85.8 556.5 L88.8 556.5 L88.8 560.4 L91.9 560.4 L91.9 564.8 L94.8 564.8 L94.8 570.2 L97.7 570.2 L97.7 573.1 L100.8 573.1 L100.8 575.7 L130.3 575.7 L130.3 579.2 L133.1 579.2 L133.1 583.1 L136.2 583.1 L136.2 586.9 L139.2 586.9 L139.2 589.2 L143.1 589.2 L143.1 592.3 L168.6 592.3 L168.6 597.0 L171.5 597.0 L171.5 601.2 L234.6 601.2 L234.6 605.0" fill="none" stroke="#000" stroke-width="2.0" stroke-linejoin="miter"/>
<line x1="78.00" y1="548.80" x2="78.00" y2="550.70" stroke="#000" stroke-width="1.2" stroke-linecap="butt"/>
<rect x="53.48" y="507.48" width="2.05" height="2.05" rx="0.5"/>
<rect x="59.28" y="507.48" width="2.05" height="2.05" rx="0.5"/>
<rect x="64.78" y="507.48" width="2.05" height="2.05" rx="0.5"/>
<rect x="66.78" y="510.98" width="2.05" height="2.05" rx="0.5"/>
<rect x="71.78" y="511.58" width="2.05" height="2.05" rx="0.5"/>
<rect x="74.48" y="514.38" width="2.05" height="2.05" rx="0.5"/>
<rect x="79.88" y="514.48" width="2.05" height="2.05" rx="0.5"/>
<rect x="82.78" y="517.08" width="2.05" height="2.05" rx="0.5"/>
<rect x="87.18" y="518.68" width="2.05" height="2.05" rx="0.5"/>
<rect x="89.38" y="522.58" width="2.05" height="2.05" rx="0.5"/>
<rect x="92.18" y="527.78" width="2.05" height="2.05" rx="0.5"/>
<rect x="94.58" y="531.98" width="2.05" height="2.05" rx="0.5"/>
<rect x="99.58" y="532.98" width="2.05" height="2.05" rx="0.5"/>
<rect x="102.78" y="535.98" width="2.05" height="2.05" rx="0.5"/>
<rect x="107.48" y="535.38" width="2.05" height="2.05" rx="0.5"/>
<rect x="112.78" y="536.18" width="2.05" height="2.05" rx="0.5"/>
<rect x="118.38" y="536.18" width="2.05" height="2.05" rx="0.5"/>
<rect x="124.38" y="536.18" width="2.05" height="2.05" rx="0.5"/>
<rect x="130.48" y="536.18" width="2.05" height="2.05" rx="0.5"/>
<rect x="136.58" y="536.18" width="2.05" height="2.05" rx="0.5"/>
<rect x="139.78" y="538.68" width="2.05" height="2.05" rx="0.5"/>
<rect x="140.48" y="543.58" width="2.05" height="2.05" rx="0.5"/>
<rect x="142.78" y="547.48" width="2.05" height="2.05" rx="0.5"/>
<rect x="145.88" y="549.78" width="2.05" height="2.05" rx="0.5"/>
<rect x="149.98" y="551.68" width="2.05" height="2.05" rx="0.5"/>
<rect x="155.48" y="552.08" width="2.05" height="2.05" rx="0.5"/>
<rect x="156.98" y="555.48" width="2.05" height="2.05" rx="0.5"/>
<rect x="162.48" y="555.68" width="2.05" height="2.05" rx="0.5"/>
<rect x="164.38" y="560.18" width="2.05" height="2.05" rx="0.5"/>
<rect x="167.58" y="563.38" width="2.05" height="2.05" rx="0.5"/>
<rect x="172.98" y="566.08" width="2.05" height="2.05" rx="0.5"/>
<rect x="178.78" y="567.48" width="2.05" height="2.05" rx="0.5"/>
<rect x="184.58" y="568.98" width="2.05" height="2.05" rx="0.5"/>
<rect x="188.38" y="572.78" width="2.05" height="2.05" rx="0.5"/>
<rect x="189.38" y="578.18" width="2.05" height="2.05" rx="0.5"/>
<rect x="195.38" y="578.38" width="2.05" height="2.05" rx="0.5"/>
<rect x="200.98" y="578.38" width="2.05" height="2.05" rx="0.5"/>
<rect x="206.78" y="578.38" width="2.05" height="2.05" rx="0.5"/>
<rect x="208.88" y="582.08" width="2.05" height="2.05" rx="0.5"/>
<rect x="210.88" y="585.58" width="2.05" height="2.05" rx="0.5"/>
<rect x="215.88" y="586.28" width="2.05" height="2.05" rx="0.5"/>
<rect x="218.88" y="589.08" width="2.05" height="2.05" rx="0.5"/>
<circle cx="213.7" cy="585.7" r="1.1"/>
</g>
<g id="panelF">
<text x="286.80" y="480.90" font-size="23.8" font-weight="bold" text-anchor="start" stroke="#000" stroke-width="0.22">F</text>
<text x="296.60" y="648.90" font-size="12.4" font-weight="bold" text-anchor="start" transform="rotate(-90 296.60 648.90)" stroke="#000" stroke-width="0.22">Opn mRNA level AU (log<tspan font-size="8.6" dy="2.4" stroke-width="0.1">10</tspan><tspan dy="-2.4">)</tspan></text>
<line x1="328.90" y1="509.15" x2="328.90" y2="611.70" stroke="#000" stroke-width="2.1" stroke-linecap="butt"/>
<line x1="324.70" y1="510.20" x2="329.95" y2="510.20" stroke="#000" stroke-width="2.1" stroke-linecap="butt"/>
<line x1="324.70" y1="535.80" x2="329.95" y2="535.80" stroke="#000" stroke-width="2.1" stroke-linecap="butt"/>
<line x1="324.70" y1="561.20" x2="329.95" y2="561.20" stroke="#000" stroke-width="2.1" stroke-linecap="butt"/>
<line x1="324.70" y1="586.30" x2="329.95" y2="586.30" stroke="#000" stroke-width="2.1" stroke-linecap="butt"/>
<line x1="324.70" y1="611.00" x2="329.95" y2="611.00" stroke="#000" stroke-width="2.1" stroke-linecap="butt"/>
<line x1="323.90" y1="614.00" x2="333.10" y2="610.00" stroke="#000" stroke-width="1.0" stroke-linecap="butt"/>
<line x1="331.70" y1="615.60" x2="335.70" y2="613.60" stroke="#000" stroke-width="1.0" stroke-linecap="butt"/>
<path d="M326.30 617.80 H328.90 V621.00 H518.20" fill="none" stroke="#000" stroke-width="2.1"/>
<text x="304.00" y="511.60" font-size="12.4" font-weight="bold" text-anchor="start" stroke="#000" stroke-width="0.22">10<tspan font-size="8.2" dy="-2.4" stroke-width="0.12">2</tspan></text>
<text x="304.00" y="537.20" font-size="12.4" font-weight="bold" text-anchor="start" stroke="#000" stroke-width="0.22">10<tspan font-size="8.2" dy="-2.4" stroke-width="0.12">1</tspan></text>
<text x="304.00" y="562.30" font-size="12.4" font-weight="bold" text-anchor="start" stroke="#000" stroke-width="0.22">10<tspan font-size="8.2" dy="-2.4" stroke-width="0.12">0</tspan></text>
<text x="304.00" y="586.30" font-size="12.4" font-weight="bold" text-anchor="start" stroke="#000" stroke-width="0.22">10<tspan font-size="8.2" dy="-2.4" stroke-width="0.12">-1</tspan></text>
<text x="304.00" y="611.40" font-size="12.4" font-weight="bold" text-anchor="start" stroke="#000" stroke-width="0.22">10<tspan font-size="8.2" dy="-2.4" stroke-width="0.12">-2</tspan></text>
<line x1="376.20" y1="621.00" x2="376.20" y2="624.20" stroke="#000" stroke-width="1.9" stroke-linecap="butt"/>
<line x1="471.00" y1="621.00" x2="471.00" y2="624.20" stroke="#000" stroke-width="1.9" stroke-linecap="butt"/>
<text x="376.60" y="636.80" font-size="12.5" font-weight="bold" text-anchor="middle" stroke="#000" stroke-width="0.22">WT</text>
<text x="471.20" y="636.80" font-size="12.85" font-weight="bold" text-anchor="middle" stroke="#000" stroke-width="0.22">Mutation</text>
<text x="380.90" y="654.90" font-size="12.9" font-weight="bold" text-anchor="start" font-style="italic" stroke="#000" stroke-width="0.22">FLT3</text>
<text x="419.00" y="654.90" font-size="12.9" font-weight="bold" text-anchor="start" stroke="#000" stroke-width="0.22">Genotype</text>
<line x1="339.60" y1="568.20" x2="405.50" y2="568.20" stroke="#000" stroke-width="1.55" stroke-linecap="butt"/>
<circle cx="364.7" cy="523.8" r="2.2"/>
<circle cx="372.4" cy="528.8" r="2.2"/>
<circle cx="372.4" cy="544.6" r="2.2"/>
<circle cx="380.1" cy="545.8" r="2.2"/>
<circle cx="364.7" cy="550.8" r="2.2"/>
<circle cx="372.4" cy="552.3" r="2.2"/>
<circle cx="372.4" cy="561.5" r="2.2"/>
<circle cx="356.8" cy="566.2" r="2.2"/>
<circle cx="387.8" cy="564.2" r="2.2"/>
<circle cx="380.1" cy="568.2" r="2.2"/>
<circle cx="364.7" cy="570.0" r="2.2"/>
<circle cx="372.4" cy="571.8" r="2.2"/>
<circle cx="380.1" cy="574.6" r="2.2"/>
<circle cx="372.4" cy="580.5" r="2.2"/>
<circle cx="364.7" cy="587.4" r="2.2"/>
<circle cx="372.4" cy="589.2" r="2.2"/>
<circle cx="380.1" cy="587.4" r="2.2"/>
<circle cx="372.5" cy="611.7" r="2.2"/>
<circle cx="380.0" cy="611.7" r="2.2"/>
<line x1="436.90" y1="573.80" x2="502.70" y2="573.80" stroke="#000" stroke-width="1.55" stroke-linecap="butt"/>
<circle cx="469.6" cy="529.2" r="2.2"/>
<circle cx="461.7" cy="540.8" r="2.2"/>
<circle cx="469.6" cy="544.2" r="2.2"/>
<circle cx="477.3" cy="554.6" r="2.2"/>
<circle cx="469.6" cy="560.0" r="2.2"/>
<circle cx="477.3" cy="567.1" r="2.2"/>
<circle cx="461.7" cy="569.0" r="2.2"/>
<circle cx="469.6" cy="571.5" r="2.2"/>
<circle cx="485.0" cy="571.9" r="2.2"/>
<circle cx="461.7" cy="576.0" r="2.2"/>
<circle cx="469.6" cy="578.8" r="2.2"/>
<circle cx="477.3" cy="578.8" r="2.2"/>
<circle cx="469.6" cy="596.9" r="2.2"/>
<circle cx="454.0" cy="611.6" r="2.2"/>
<circle cx="461.7" cy="611.6" r="2.2"/>
<circle cx="469.6" cy="611.6" r="2.2"/>
<circle cx="477.3" cy="611.6" r="2.2"/>
<circle cx="485.0" cy="611.6" r="2.2"/>
</g>
<g id="panelG">
<text x="0.60" y="681.20" font-size="24.2" font-weight="bold" text-anchor="start" stroke="#000" stroke-width="0.22">G</text>
<text x="38.20" y="807.60" font-size="12.9" font-weight="bold" text-anchor="start" transform="rotate(-90 38.20 807.60)" stroke="#000" stroke-width="0.22">Opn mRNA level AU</text>
<text x="99.00" y="690.00" font-size="13.1" font-weight="bold" text-anchor="start" stroke="#000" stroke-width="0.22">AML 32</text>
<text x="196.00" y="690.30" font-size="13.0" font-weight="bold" text-anchor="start" stroke="#000" stroke-width="0.22">AML 4</text>
<text x="94.20" y="709.20" font-size="13.4" font-weight="normal" text-anchor="start" stroke="#000" stroke-width="0.12"><tspan font-style="italic">P</tspan> = .0001</text>
<text x="192.90" y="711.20" font-size="13.5" font-weight="normal" text-anchor="start" stroke="#000" stroke-width="0.12"><tspan font-style="italic">P</tspan> = .05</text>
<path d="M97.5 721.2 V715.4 H132.7 V721.2" fill="none" stroke="#000" stroke-width="1.3"/>
<path d="M198.7 722.4 V716.8 H230.2 V722.4" fill="none" stroke="#000" stroke-width="1.3"/>
<rect x="85.8" y="770.2" width="30.7" height="3.0" fill="#000"/>
<rect x="116.9" y="735.8" width="29.6" height="37.0" fill="#8b8b8b" stroke="#444" stroke-width="0.9"/>
<path d="M75.7 710.6 V773.0 H160.4" fill="none" stroke="#000" stroke-width="1.4"/>
<path d="M132.2 728.2 V742.6 M130.7 728.2 H133.7 M130.7 742.6 H133.7" fill="none" stroke="#333" stroke-width="0.9"/>
<text x="72.10" y="716.20" font-size="12.3" font-weight="bold" text-anchor="end" stroke="#000" stroke-width="0.22">0.25</text>
<text x="72.80" y="778.00" font-size="12.3" font-weight="bold" text-anchor="end" stroke="#000" stroke-width="0.22">0</text>
<rect x="184.5" y="758.0" width="31.4" height="15.0" fill="#000"/>
<rect x="216.3" y="730.4" width="30.4" height="42.4" fill="#8b8b8b" stroke="#444" stroke-width="0.9"/>
<path d="M173.3 709.6 V773.2 H257.8" fill="none" stroke="#000" stroke-width="1.4"/>
<path d="M230.8 725.6 V734.8 M229.3 725.6 H232.3 M229.3 734.8 H232.3" fill="none" stroke="#333" stroke-width="0.9"/>
<path d="M200.0 755.4 V758.0 M199.0 755.4 H201.0" fill="none" stroke="#777" stroke-width="0.8"/>
<text x="170.50" y="715.70" font-size="12.3" font-weight="bold" text-anchor="end" stroke="#000" stroke-width="0.22">10</text>
<text x="170.90" y="778.30" font-size="12.3" font-weight="bold" text-anchor="end" stroke="#000" stroke-width="0.22">0</text>
<text x="93.60" y="781.00" font-size="13" font-weight="bold" text-anchor="start" transform="rotate(58 93.60 781.00)" stroke="#000" stroke-width="0.22">Diagnosis</text>
<text x="130.40" y="781.30" font-size="13" font-weight="bold" text-anchor="start" transform="rotate(58 130.40 781.30)" stroke="#000" stroke-width="0.22">Relapse</text>
<text x="193.80" y="781.20" font-size="13" font-weight="bold" text-anchor="start" transform="rotate(58 193.80 781.20)" stroke="#000" stroke-width="0.22">Diagnosis</text>
<text x="231.00" y="781.40" font-size="13" font-weight="bold" text-anchor="start" transform="rotate(58 231.00 781.40)" stroke="#000" stroke-width="0.22">Relapse</text>
</g>
</svg></body></html>
